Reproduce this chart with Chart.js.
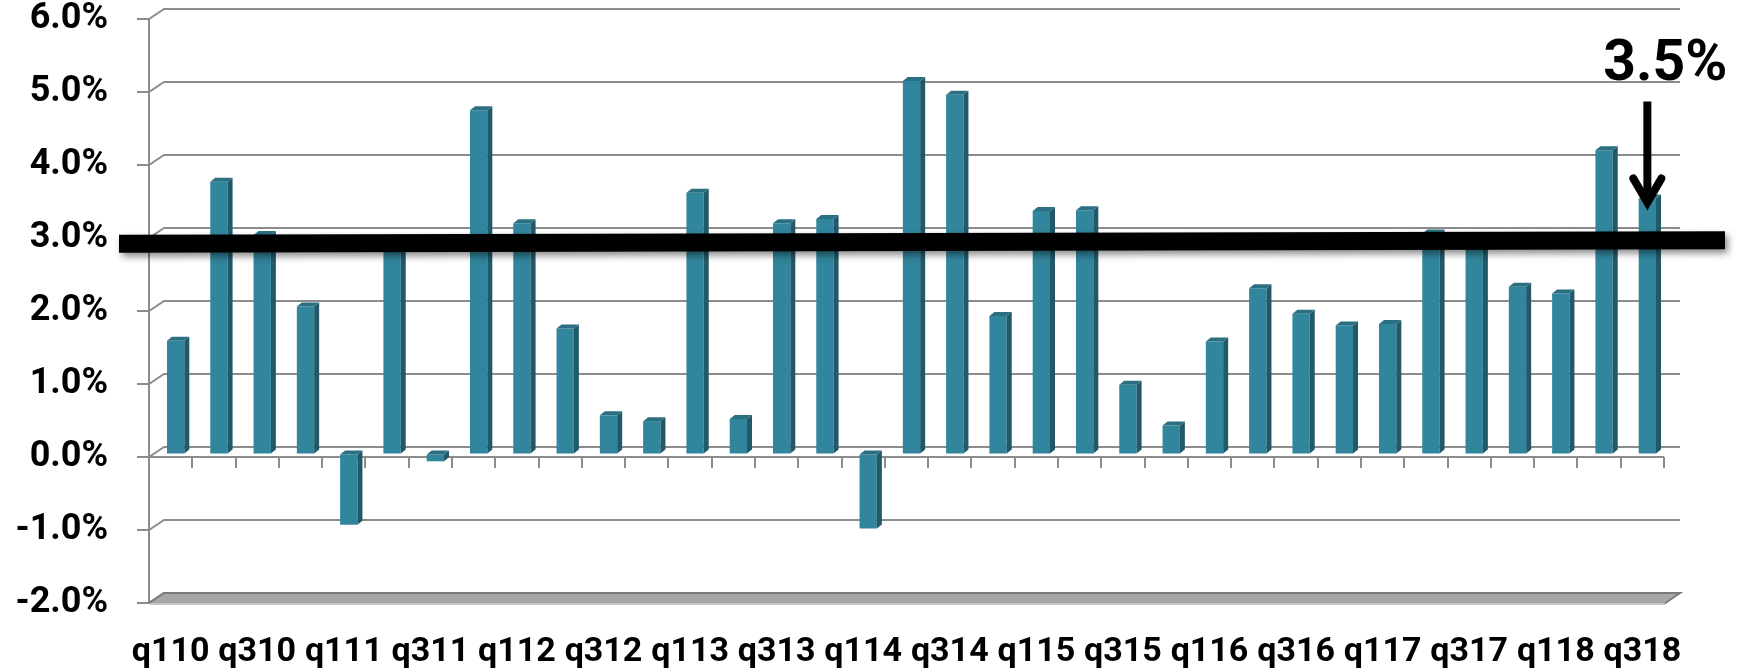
<!DOCTYPE html>
<html>
<head>
<meta charset="utf-8">
<title>Quarterly growth</title>
<script src="https://cdn.jsdelivr.net/npm/chart.js@4.4.1/dist/chart.umd.min.js"></script>
<style>
  html, body { margin: 0; padding: 0; background: #ffffff; }
  canvas { display: block; }
</style>
</head>
<body>
<canvas id="growthChart" width="1742" height="670"></canvas>
<script>
// Quarter labels (qQYY) and growth rates in percent
const quarters = [
  'q110','q210','q310','q410','q111','q211','q311','q411',
  'q112','q212','q312','q412','q113','q213','q313','q413',
  'q114','q214','q314','q414','q115','q215','q315','q415',
  'q116','q216','q316','q416','q117','q217','q317','q417',
  'q118','q218','q318'
];
const growth = [
  1.55, 3.73, 3.00, 2.02, -0.97, 2.85, -0.10, 4.71,
  3.16, 1.72, 0.53, 0.45, 3.58, 0.48, 3.16, 3.22,
  -1.02, 5.11, 4.92, 1.89, 3.33, 3.34, 0.95, 0.39,
  1.54, 2.27, 1.92, 1.76, 1.78, 3.02, 2.90, 2.29,
  2.20, 4.16, 3.50
];
const yTicks = [-2, -1, 0, 1, 2, 3, 4, 5, 6];
// Benchmark level drawn across the chart (start, end)
const benchmark = [2.92, 2.97];

// Pseudo-3D look
const WALL_DX = 15, WALL_DY = 10;   // back wall offset
const BAR_DX = 5, BAR_DY = 3;       // bar plane offset from front axis
const FACE_DX = 5, FACE_DY = 4;     // bar depth (side / top faces)
const TICK = 12;                    // visible tick mark length
const GRID = '#8c8c8c';
const FRONT = '#31859c', SIDE = '#215968', TOP = '#2a6f82';
const FONT = 'Roboto';

const depth3d = {
  id: 'depth3d',
  beforeDatasetsDraw(chart) {
    const { ctx, chartArea: a, scales: { y } } = chart;
    ctx.save();
    ctx.lineWidth = 2;
    ctx.strokeStyle = GRID;
    // value ticks on the front axis, back wall grid lines and left-wall connectors
    yTicks.forEach(v => {
      const py = y.getPixelForValue(v);
      ctx.beginPath();
      ctx.moveTo(a.left - TICK, py);
      ctx.lineTo(a.left, py);
      ctx.lineTo(a.left + WALL_DX, py - WALL_DY);
      ctx.lineTo(a.right + WALL_DX + 1, py - WALL_DY);
      ctx.stroke();
    });
    // floor plate
    const fy = y.getPixelForValue(y.min);
    ctx.beginPath();
    ctx.moveTo(a.left, fy);
    ctx.lineTo(a.right, fy);
    ctx.lineTo(a.right + WALL_DX + 1, fy - WALL_DY);
    ctx.lineTo(a.left + WALL_DX, fy - WALL_DY);
    ctx.closePath();
    ctx.fillStyle = '#a6a6a6';
    ctx.fill();
    ctx.strokeStyle = '#7a7a7a';
    ctx.beginPath();
    ctx.moveTo(a.left, fy);
    ctx.lineTo(a.left + WALL_DX, fy - WALL_DY);
    ctx.lineTo(a.right + WALL_DX + 1, fy - WALL_DY);
    ctx.lineTo(a.right, fy + 1);
    ctx.stroke();
    ctx.fillStyle = '#c6c6c6';
    ctx.fillRect(a.left + 1, fy, a.right - a.left, 2);
    // front zero axis with category tick marks
    const zy = y.getPixelForValue(0);
    ctx.strokeStyle = GRID;
    ctx.beginPath();
    ctx.moveTo(a.left, zy);
    ctx.lineTo(a.right, zy);
    const step = (a.right - a.left) / quarters.length;
    for (let k = 1; k <= quarters.length; k++) {
      const tx = Math.round(a.left + k * step);
      ctx.moveTo(tx, zy);
      ctx.lineTo(tx, zy + 11);
    }
    ctx.stroke();
    ctx.restore();
    // bars sit slightly behind the front axis plane
    ctx.save();
    ctx.translate(BAR_DX, -BAR_DY);
  },
  afterDatasetsDraw(chart) {
    const { ctx, chartArea: a, scales: { y } } = chart;
    const meta = chart.getDatasetMeta(0);
    // side and top faces of every column
    meta.data.forEach(bar => {
      const x0 = bar.x - bar.width / 2, x1 = bar.x + bar.width / 2;
      const yt = Math.min(bar.y, bar.base), yb = Math.max(bar.y, bar.base);
      ctx.fillStyle = SIDE;
      ctx.beginPath();
      ctx.moveTo(x1, yt);
      ctx.lineTo(x1 + FACE_DX, yt - FACE_DY);
      ctx.lineTo(x1 + FACE_DX, yb - FACE_DY);
      ctx.lineTo(x1, yb);
      ctx.closePath();
      ctx.fill();
      ctx.fillStyle = TOP;
      ctx.beginPath();
      ctx.moveTo(x0, yt);
      ctx.lineTo(x0 + FACE_DX, yt - FACE_DY);
      ctx.lineTo(x1 + FACE_DX, yt - FACE_DY);
      ctx.lineTo(x1, yt);
      ctx.closePath();
      ctx.fill();
    });
    ctx.restore();

    // benchmark band
    const lx0 = a.left - 30, lx1 = a.right + 61;
    const ly0 = y.getPixelForValue(benchmark[0]);
    const ly1 = y.getPixelForValue(benchmark[1]);
    ctx.save();
    ctx.shadowColor = 'rgba(0,0,0,0.45)';
    ctx.shadowBlur = 7;
    ctx.shadowOffsetX = 3;
    ctx.shadowOffsetY = 4;
    ctx.fillStyle = '#000000';
    ctx.beginPath();
    ctx.moveTo(lx0, ly0 - 9);
    ctx.lineTo(lx1, ly1 - 9);
    ctx.lineTo(lx1, ly1 + 9);
    ctx.lineTo(lx0, ly0 + 9);
    ctx.closePath();
    ctx.fill();
    ctx.restore();

    // callout for the latest quarter
    const last = meta.data[meta.data.length - 1];
    const lastValue = growth[growth.length - 1];
    const ax = last.x + BAR_DX;
    const top = last.y - BAR_DY;
    ctx.save();
    ctx.strokeStyle = '#000000';
    ctx.lineWidth = 8;
    ctx.lineCap = 'butt';
    ctx.beginPath();
    ctx.moveTo(ax, top - 97);
    ctx.lineTo(ax, top + 1);
    ctx.stroke();
    ctx.lineCap = 'round';
    ctx.lineJoin = 'miter';
    ctx.beginPath();
    ctx.moveTo(ax - 14, top - 20);
    ctx.lineTo(ax, top + 4);
    ctx.lineTo(ax + 14, top - 20);
    ctx.stroke();
    ctx.fillStyle = '#000000';
    ctx.font = 'bold 57px ' + FONT;
    ctx.textAlign = 'center';
    ctx.textBaseline = 'alphabetic';
    ctx.fillText(lastValue.toFixed(1) + '%', ax + 18, top - 119);
    ctx.restore();
  }
};

new Chart(document.getElementById('growthChart'), {
  type: 'bar',
  data: {
    labels: quarters,
    datasets: [{
      data: growth,
      backgroundColor: FRONT,
      borderWidth: 0,
      barPercentage: 0.4,
      categoryPercentage: 1.0
    }]
  },
  options: {
    responsive: false,
    devicePixelRatio: 1,
    animation: false,
    layout: { padding: { top: 19, right: 78, bottom: 0, left: 0 } },
    plugins: { legend: { display: false }, tooltip: { enabled: false } },
    scales: {
      x: {
        grid: { display: false },
        border: { display: false },
        ticks: {
          autoSkip: false,
          maxRotation: 0,
          minRotation: 0,
          padding: 24,
          color: '#000000',
          font: { family: FONT, weight: 'bold', size: 34, lineHeight: 1 },
          callback: (v, i) => (i % 2 === 0 ? quarters[i] : '')
        },
        afterFit: s => { s.height = 67; }
      },
      y: {
        min: -2,
        max: 6,
        afterBuildTicks: s => { s.ticks = yTicks.map(v => ({ value: v })); },
        grid: { drawOnChartArea: false, tickLength: 41, tickColor: 'rgba(0,0,0,0)' },
        border: { color: GRID, width: 2 },
        ticks: {
          padding: 0,
          color: '#000000',
          font: { family: FONT, weight: 'bold', size: 36, lineHeight: 1 },
          callback: v => v.toFixed(1) + '%'
        },
        afterFit: s => { s.width = 149; }
      }
    }
  },
  plugins: [depth3d]
});
</script>
</body>
</html>
